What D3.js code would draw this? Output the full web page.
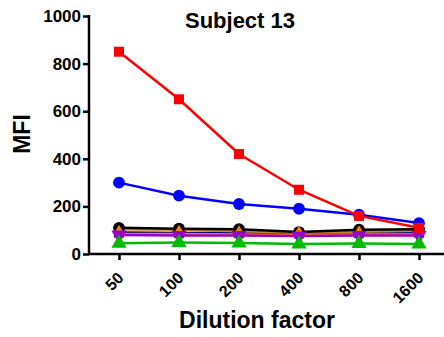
<!DOCTYPE html>
<meta charset="utf-8">
<style>
    body { margin: 0; background: #fff; }
    text { font-family: "Liberation Sans", Arial, sans-serif; font-weight: bold; fill: #000; }
    .axis path, .axis line { stroke: #000; stroke-width: 2.5; }
    .series path.line { fill: none; stroke-width: 2.5; }
</style>
<body>
<script src="https://cdn.jsdelivr.net/npm/d3@7"></script>
<script>

    var dilutions = ["50", "100", "200", "400", "800", "1600"];
    var yTicks = [0, 200, 400, 600, 800, 1000];

    // one array per analyte
    var redVals    = [850, 650, 420, 270, 160, 110];
    var blueVals   = [300, 245, 210, 190, 165, 130];
    var blackVals  = [110, 106, 104, 92, 102, 104];
    var tanVals    = [104, 102, 96, 90, 94, 98];
    var navyVals   = [90, 88, 88, 86, 88, 90];
    var orangeVals = [84, 84, 82, 80, 82, 82];
    var purpleVals = [80, 78, 78, 76, 78, 78];
    var greenVals  = [45, 48, 46, 42, 44, 42];

    var series = [
        {name: "navy",   values: navyVals,   color: "#000080", symbol: d3.symbolSquare},
        {name: "tan",    values: tanVals,    color: "#c8842a", symbol: d3.symbolSquare},
        {name: "black",  values: blackVals,  color: "#000000", symbol: d3.symbolCircle},
        {name: "orange", values: orangeVals, color: "#ff8000", symbol: d3.symbolDiamond},
        {name: "purple", values: purpleVals, color: "#9900cc", symbol: d3.symbolTriangle, flip: true},
        {name: "green",  values: greenVals,  color: "#00bb00", symbol: d3.symbolTriangle},
        {name: "blue",   values: blueVals,   color: "#0000ff", symbol: d3.symbolCircle},
        {name: "red",    values: redVals,    color: "#ff0000", symbol: d3.symbolSquare}
    ];

    var W = 444, H = 337;
    var plotL = 89, plotT = 16, plotB = 254, plotR = 449;

    var svg = d3.select("body").append("svg")
            .attr("width", W)
            .attr("height", H);

    var x = d3.scalePoint().domain(dilutions).range([plotL, plotR]).padding(0.5);
    var y = d3.scaleLinear().domain([0, 1000]).range([plotB, plotT]);

    var xAxis = svg.append("g")
            .attr("class", "axis")
            .attr("transform", "translate(0," + plotB + ")")
            .call(d3.axisBottom(x).tickSize(6).tickSizeOuter(0));
    xAxis.selectAll("text")
            .style("font-size", "16px")
            .attr("text-anchor", "end")
            .attr("dy", null)
            .attr("y", 0).attr("x", 0)
            .attr("transform", "translate(5,25) rotate(-45)");

    var yAxis = svg.append("g")
            .attr("class", "axis")
            .attr("transform", "translate(" + plotL + ",0)")
            .call(d3.axisLeft(y).tickValues(yTicks).tickFormat(d3.format("d")).tickSize(6).tickSizeOuter(0));
    yAxis.selectAll("text").style("font-size", "17px").attr("x", -8);
    yAxis.select("path.domain").attr("d", "M0," + (plotT - 1) + "V" + (plotB + 1));
    xAxis.select("path.domain").attr("d", "M" + (plotL - 1) + ",0H" + W);
    svg.selectAll(".axis text").attr("fill", "#000");

    var line = d3.line()
            .x(function(d, i) { return x(dilutions[i]); })
            .y(function(d) { return y(d); });

    var g = svg.selectAll("g.series").data(series).enter()
            .append("g")
            .attr("class", "series");

    g.append("path")
            .attr("class", "line")
            .attr("stroke", function(d) { return d.color; })
            .attr("d", function(d) { return line(d.values); });

    g.each(function(s) {
        var sym = d3.symbol().type(s.symbol).size(s.symbol === d3.symbolCircle ? 110 : 100);
        d3.select(this).selectAll("path.pt").data(s.values).enter()
                .append("path")
                .attr("class", "pt")
                .attr("fill", s.color)
                .attr("transform", function(d, i) {
                    return "translate(" + x(dilutions[i]) + "," + y(d) + ")" + (s.flip ? " rotate(180)" : "");
                })
                .attr("d", sym);
    });

    svg.append("text")
            .attr("x", 240).attr("y", 28)
            .attr("text-anchor", "middle")
            .style("font-size", "22px")
            .text("Subject 13");

    svg.append("text")
            .attr("transform", "translate(30,134) rotate(-90)")
            .attr("text-anchor", "middle")
            .style("font-size", "23px")
            .text("MFI");

    svg.append("text")
            .attr("x", 257).attr("y", 328)
            .attr("text-anchor", "middle")
            .style("font-size", "23px")
            .text("Dilution factor");

</script>
